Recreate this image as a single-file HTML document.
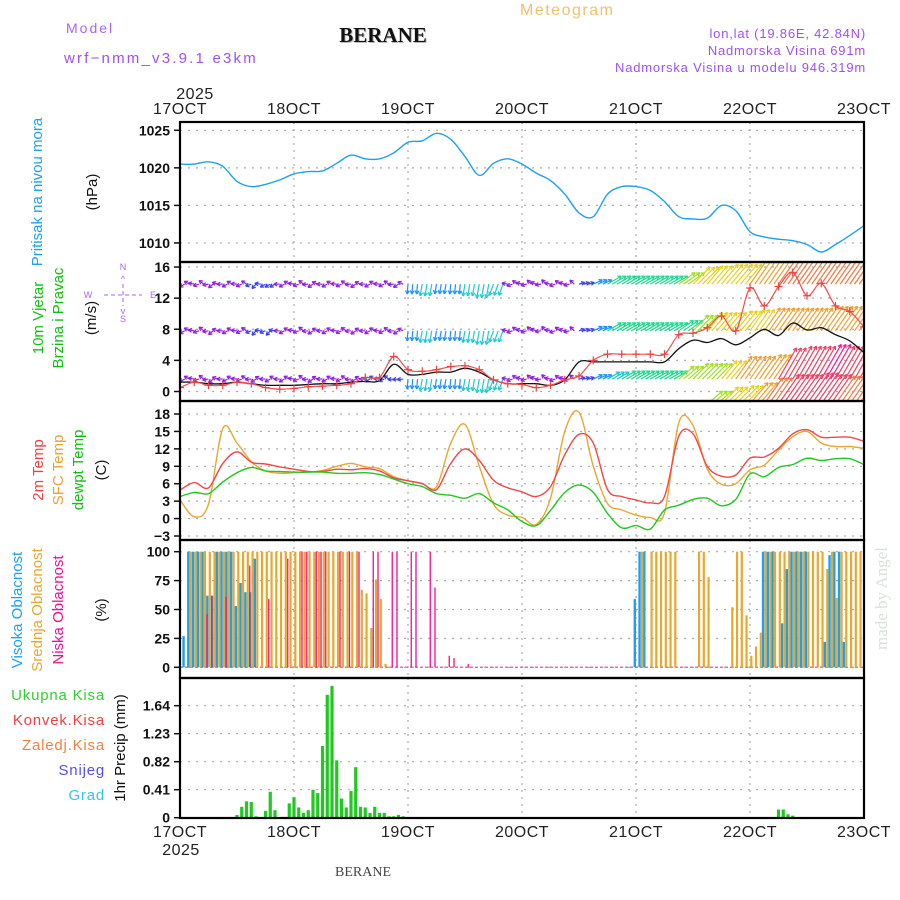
<!DOCTYPE html>
<html><head><meta charset="utf-8"><style>
html,body{margin:0;padding:0;background:#fff;}
svg{display:block;font-family:"Liberation Sans",sans-serif;}
.tl{font-size:14px;font-weight:bold;fill:#111;text-anchor:end;}
.xl{font-size:16px;fill:#222;text-anchor:middle;letter-spacing:0.5px;}
</style></head><body>
<svg id="chart" width="900" height="900" viewBox="0 0 900 900">
<text x="66" y="33" font-size="14" fill="#b060f0" letter-spacing="2">Model</text>
<text x="64" y="63" font-size="15" fill="#a050f0" letter-spacing="2.2">wrf−nmm_v3.9.1 e3km</text>
<text x="384" y="43" font-size="21" font-weight="bold" font-family="Liberation Serif, serif" fill="#bbb" text-anchor="middle">BERANE</text>
<text x="383" y="42" font-size="21" font-weight="bold" font-family="Liberation Serif, serif" fill="#111" text-anchor="middle">BERANE</text>
<text x="520" y="15" font-size="16" fill="#f0c070" letter-spacing="1.5">Meteogram</text>
<text x="866" y="38" font-size="13" fill="#a050f0" text-anchor="end" letter-spacing="0.8">lon,lat (19.86E, 42.84N)</text>
<text x="866" y="55" font-size="13" fill="#a050f0" text-anchor="end" letter-spacing="0.8">Nadmorska Visina 691m</text>
<text x="866" y="72" font-size="13" fill="#a050f0" text-anchor="end" letter-spacing="0.8">Nadmorska Visina u modelu 946.319m</text>
<text x="195" y="99" class="xl">2025</text>
<text x="363" y="876" font-size="14" font-family="Liberation Serif, serif" fill="#444" text-anchor="middle">BERANE</text>
<text transform="translate(887,650) rotate(-90)" font-size="17" font-family="Liberation Serif, serif" fill="#d8e2d8">made by Angel</text>

<text transform="translate(42,192) rotate(-90)" font-size="15" fill="#20a0f0" text-anchor="middle">Pritisak na nivou mora</text>
<text transform="translate(97,192) rotate(-90)" font-size="15" fill="#111" text-anchor="middle">(hPa)</text>
<text transform="translate(43,318) rotate(-90)" font-size="15" fill="#10c010" text-anchor="middle">10m Vjetar</text>
<text transform="translate(63,318) rotate(-90)" font-size="15" fill="#10c010" text-anchor="middle">Brzina i Pravac</text>
<text transform="translate(96,318) rotate(-90)" font-size="15" fill="#111" text-anchor="middle">(m/s)</text>
<g fill="#b060f0" font-size="9" text-anchor="middle">
<text x="123" y="270">N</text><text x="123" y="282">^</text><text x="123" y="322">S</text><text x="123" y="314">v</text>
<text x="88" y="298">W</text><text x="153" y="298">E</text>
<line x1="104" y1="295" x2="142" y2="295" stroke="#b060f0" stroke-width="1" stroke-dasharray="4,3"/>
<line x1="123" y1="284" x2="123" y2="306" stroke="#b060f0" stroke-width="1" stroke-dasharray="4,3"/>
</g>
<text transform="translate(43,470) rotate(-90)" font-size="15" fill="#f04040" text-anchor="middle">2m Temp</text>
<text transform="translate(63,470) rotate(-90)" font-size="15" fill="#f0a030" text-anchor="middle">SFC Temp</text>
<text transform="translate(83,470) rotate(-90)" font-size="15" fill="#10c010" text-anchor="middle">dewpt Temp</text>
<text transform="translate(106,470) rotate(-90)" font-size="15" fill="#111" text-anchor="middle">(C)</text>
<text transform="translate(22,610) rotate(-90)" font-size="15" fill="#20a0f0" text-anchor="middle">Visoka Oblacnost</text>
<text transform="translate(42,610) rotate(-90)" font-size="15" fill="#e8a830" text-anchor="middle">Srednja Oblacnost</text>
<text transform="translate(63,610) rotate(-90)" font-size="15" fill="#f01090" text-anchor="middle">Niska Oblacnost</text>
<text transform="translate(106,610) rotate(-90)" font-size="15" fill="#111" text-anchor="middle">(%)</text>
<g font-size="15" text-anchor="end" letter-spacing="0.8">
<text x="105" y="700" fill="#30d030">Ukupna Kisa</text>
<text x="105" y="725" fill="#f04040">Konvek.Kisa</text>
<text x="105" y="750" fill="#f08040">Zaledj.Kisa</text>
<text x="105" y="775" fill="#5050f0">Snijeg</text>
<text x="105" y="800" fill="#30c8e0">Grad</text>
</g>
<text transform="translate(125,748) rotate(-90)" font-size="15" fill="#111" text-anchor="middle">1hr Precip (mm)</text>
<g id="layer"></g>
</svg>
<script>
// ---- data (3-hourly unless noted) ----
const dayLabels = ["17OCT","18OCT","19OCT","20OCT","21OCT","22OCT","23OCT"];
const pressure = [1020.5,1020.5,1020.8,1020.2,1018.2,1017.5,1017.8,1018.4,1019.2,1019.5,1019.6,1020.6,1021.7,1021.2,1021.2,1022.0,1023.4,1023.6,1024.6,1023.8,1021.5,1019.0,1020.6,1021.2,1020.5,1019.3,1018.3,1016.5,1014.0,1013.5,1016.5,1017.5,1017.5,1017.0,1015.5,1013.5,1013.2,1013.3,1015.0,1014.3,1011.5,1010.8,1010.5,1010.3,1009.8,1008.8,1009.8,1011.0,1012.3];
const pressureTicks = [1010,1015,1020,1025];
const temp2m = [4.9,6.2,5.3,9.5,11.5,9.7,9.4,8.9,8.5,8.1,8.1,8.5,8.4,8.6,8.2,7.0,6.5,6.0,5.0,9.5,12.0,10.0,6.6,5.3,4.6,3.8,5.5,11.0,14.5,13.0,5.0,3.8,3.2,2.7,3.8,14.2,14.6,9.0,7.3,7.5,10.4,10.6,12.1,14.6,15.3,14.0,14.0,14.0,13.3];
const tempSfc = [3.2,0.3,2.5,15.5,13.0,9.8,8.2,7.8,7.9,8.0,8.3,9.0,9.5,8.9,8.6,7.2,6.5,6.0,5.5,13.0,16.2,9.0,2.5,0.6,0.2,-1.0,3.5,15.0,18.3,9.0,2.6,1.5,0.6,0.2,1.0,16.5,16.0,8.5,5.9,6.0,8.4,9.2,11.8,14.1,15.0,13.0,12.4,12.4,12.1];
const tempDew = [3.8,4.5,4.3,6.3,7.9,8.8,8.2,8.1,8.0,8.0,8.0,7.8,7.8,7.9,7.6,6.8,6.0,5.5,4.3,4.0,3.5,4.3,2.7,1.5,-0.5,-1.2,1.4,4.5,5.8,4.5,0.9,-1.6,-1.2,-1.8,1.5,2.3,3.3,3.5,2.2,3.3,7.7,7.2,8.8,9.3,10.4,10.0,10.3,10.3,9.3];
const tempTicks = [-3,0,3,6,9,12,15,18];
const windSpeed = [1.2,1.2,1.0,1.0,1.2,1.0,0.8,0.8,0.8,0.9,1.0,1.0,1.2,1.3,1.4,3.5,2.2,2.2,2.5,2.5,3.0,2.5,1.5,1.0,1.0,1.0,0.8,1.5,3.8,3.8,3.8,3.8,3.8,3.8,3.8,5.5,6.6,6.3,6.8,6.0,6.9,8.0,7.2,8.8,7.9,8.2,7.3,6.5,5.0];
const windGust = [0.5,1.2,0.8,0.8,1.2,1.0,0.5,0.3,0.4,0.6,0.7,0.8,1.0,1.8,1.8,4.5,2.8,2.6,2.8,3.2,3.3,2.8,1.5,1.0,0.9,0.5,0.8,1.5,2.0,4.0,4.8,4.8,4.8,4.8,4.8,7.3,7.5,8.2,9.7,7.8,13.3,11.0,13.5,15.3,12.3,13.9,11.0,10.3,8.3];
const windTicks = [0,4,8,12,16];
// wind barb rows: speed (m/s) and arrow direction (deg, counter-clockwise from east)
const row1Speed = [1.5,1.5,1.5,1.5,1.5,2.5,3,1.5,1.5,1.5,1.5,1.5,1.5,1.5,1.5,1.5,5,6,5,5,6,7,6,1.5,1.5,1.5,1.5,1.5,3,5,8,8,8,8,8,10,12,12,13,13,15,15,16,16,17,17,17,16,16];
const row1Dir = [180,170,190,180,175,200,210,180,170,185,180,175,185,180,175,185,-95,-100,-100,-95,-100,-100,-110,170,165,160,170,165,15,25,30,30,30,30,30,35,45,50,50,50,55,55,55,55,55,55,55,55,55];
const row2Speed = [1.5,1.5,1.5,1.5,1.5,2.5,2,1.5,1.5,1.5,1.5,1.5,1.5,1.5,1.5,1.5,5,6,5,5,6,7,6,1.5,1.5,1.5,1.5,1.5,3,5,8,8,8,8,8,9,11,12,12,13,13,14,14,14,14,15,15,15,15];
const row2Dir = [180,170,190,180,175,200,200,180,170,185,180,175,185,180,175,185,-95,-100,-100,-95,-100,-100,-110,170,165,160,170,165,15,25,30,30,30,30,30,35,45,50,50,50,55,55,55,55,55,55,55,55,55];
const row3Speed = [1.5,1.5,1.5,1.5,1.5,1.5,1.5,1.5,1.5,1.5,1.5,1.5,1.5,2,2.5,3,5,6,5,5,6,7,6,1.5,1.5,1.5,1.5,1.5,3,5,7,8,8,8,8,10,11,11,12,14,14,15,18,19,19,20,19,18,16];
const row3Dir = [180,170,190,180,175,185,180,180,170,185,180,175,185,180,175,185,-95,-100,-100,-95,-100,-100,-110,170,165,160,170,165,15,25,30,30,30,30,30,40,45,45,50,55,55,55,60,60,60,60,60,60,55];
const row4Speed = [0,0,0,0,0,0,0,0,0,0,0,0,0,0,0,0,0,0,0,0,0,0,0,0,0,0,0,0,0,0,0,0,0,0,0,0,0,10,12,13,14,16,18,18,19,18,17,16,15];
const row4Dir = [35,35,35,35,35,35,35,35,35,35,35,35,35,35,35,35,35,35,35,35,35,35,35,35,35,35,35,35,35,35,35,35,35,35,35,35,35,40,45,45,50,55,55,55,55,55,55,55,55];
const rowBase = [13.8,7.8,1.6,-1.6];
// cloud cover (hourly, sparse)
const highHours = [1,2,3,4,5,6,7,8,9,10,11,12,13,14,15,16,96,97,98,123,124,125,127,128,129,130,131,132,136,137,138,139,140];
const highValues = [27,100,100,100,100,62,62,100,100,100,100,53,73,65,65,94,59,100,100,100,100,100,38,85,100,100,100,100,22,97,100,100,22];
const midHours = [2,3,4,5,6,7,8,9,10,11,12,13,14,15,16,17,18,19,20,21,22,23,24,25,26,27,28,29,30,31,32,33,34,35,36,37,38,39,40,41,42,43,97,99,100,101,102,103,104,109,110,111,116,117,118,119,120,121,122,123,124,125,126,127,128,129,130,131,132,133,134,135,136,137,138,139,140,141,142,143];
const midValues = [100,100,100,100,100,100,100,100,100,100,100,100,100,100,100,100,100,100,100,100,100,100,100,100,100,100,100,100,100,100,100,100,100,100,100,100,67,64,34,76,59,3,100,100,100,100,100,100,100,100,100,78,52,100,100,45,10,18,30,100,100,100,100,100,100,100,100,100,100,100,100,100,85,100,60,100,100,100,100,100];
const lowHours = [5,6,9,14,18,22,25,26,28,29,30,33,35,37,40,41,44,45,48,49,52,53,56,57,60];
const lowValues = [46,62,61,88,59,94,100,100,100,100,100,100,100,100,100,100,100,100,100,100,100,69,10,8,3];
const cloudTicks = [0,25,50,75,100];
// precipitation (hourly, sparse)
const precipHours = [12,13,14,15,16,18,19,20,23,24,25,26,27,28,29,30,31,32,33,34,35,36,37,38,39,40,41,42,43,44,45,46,47,126,127,128,129];
const precipValues = [0.04,0.16,0.24,0.23,0.02,0.1,0.38,0.11,0.21,0.3,0.15,0.07,0.11,0.41,0.36,1.05,1.8,1.93,0.84,0.28,0.15,0.39,0.74,0.16,0.15,0.07,0.16,0.07,0.07,0.02,0.02,0.04,0.02,0.12,0.12,0.05,0.03];
const precipTicks = ["0","0.41","0.82","1.23","1.64"];

// ---- axes ----
const X0=180, X1=864, PXH=4.75;
const xH = h => X0 + h*PXH;
const x3 = i => xH(i*3);
const yP = v => 130.3 + (1025-v)*7.51;
const yW = v => 391.5 - v*7.78;
const yT = v => 414 + (18-v)*5.81;
const yC = v => 667.3 - v*1.156;
const yR = v => 817.7 - v*68.3;
const panels = [[122,262],[262,401],[401,540],[540,678],[678,818]];

const NS="http://www.w3.org/2000/svg";
const layer=document.getElementById('layer');
function mk(tag, attrs, parent){const e=document.createElementNS(NS,tag);for(const k in attrs)e.setAttribute(k,attrs[k]);(parent||layer).appendChild(e);return e;}

const defs=mk('defs',{});
panels.forEach((p,k)=>{const c=mk('clipPath',{id:'clip'+k},defs);mk('rect',{x:X0,y:p[0],width:X1-X0,height:p[1]-p[0]},c);});

function hgrid(vals,fy){vals.forEach(v=>{const l=mk('line',{x1:X0,x2:X1,y1:fy(v),y2:fy(v),stroke:'#aaa','stroke-width':1.2,'stroke-dasharray':'2,6'});

});}
hgrid(pressureTicks,yP);hgrid(windTicks,yW);hgrid(tempTicks,yT);hgrid(cloudTicks,yC);hgrid(precipTicks.map(Number),yR);
panels.forEach(p=>{for(let d=1;d<6;d++){const l=mk('line',{x1:xH(d*24),x2:xH(d*24),y1:p[0],y2:p[1],stroke:'#aaa','stroke-width':1.2,'stroke-dasharray':'2,5'});

}});

function ticks(vals,fy,labels){vals.forEach((v,j)=>{const t=mk('text',{x:170,y:fy(v)+5,class:'tl'});t.textContent=labels?labels[j]:String(v);


mk('line',{x1:174,x2:180,y1:fy(v),y2:fy(v),stroke:'#111','stroke-width':1.5});});}
ticks(pressureTicks,yP);ticks(windTicks,yW);
ticks(tempTicks,yT,tempTicks.map(v=>v<0?'−'+(-v):String(v)));
ticks(cloudTicks,yC);ticks(precipTicks.map(Number),yR,precipTicks);
dayLabels.forEach((d,j)=>{
 const t=mk('text',{x:xH(j*24),y:114,class:'xl'});t.textContent=d;
 
 
 const b=mk('text',{x:xH(j*24),y:837,class:'xl'});b.textContent=d;
 
 
});
{const t=mk('text',{x:181,y:855,class:'xl'});t.textContent='2025';

}

// smooth line (Catmull-Rom)
function smooth(vals,fx,fy,color,w,clip,name){
 const P=vals.map((v,i)=>[fx(i),fy(v)]);
 let d='M'+P[0][0].toFixed(1)+','+P[0][1].toFixed(1);
 for(let i=0;i<P.length-1;i++){
  const p0=P[Math.max(0,i-1)],p1=P[i],p2=P[i+1],p3=P[Math.min(P.length-1,i+2)];
  const c1=[p1[0]+(p2[0]-p0[0])/6,p1[1]+(p2[1]-p0[1])/6];
  const c2=[p2[0]-(p3[0]-p1[0])/6,p2[1]-(p3[1]-p1[1])/6];
  d+=' C'+c1.map(n=>n.toFixed(1)).join(',')+' '+c2.map(n=>n.toFixed(1)).join(',')+' '+p2.map(n=>n.toFixed(1)).join(',');
 }
 const e=mk('path',{d:d,fill:'none',stroke:color,'stroke-width':w,'clip-path':'url(#clip'+clip+')','stroke-linejoin':'round'});
 
 return e;}

smooth(pressure,x3,yP,'#1ea0f0',1.4,0,'pressure-line');

function spdColor(s){const c=['#9020e0','#3a40f0','#1e90ff','#20c8d0','#20d890','#a0e020','#e8d020','#f0a030','#f07840','#f04060','#f0208a'];
return c[Math.min(c.length-1,Math.floor(s/2))];}
const windG=mk('g',{'clip-path':'url(#clip1)'});


[[row1Speed,row1Dir],[row2Speed,row2Dir],[row3Speed,row3Dir],[row4Speed,row4Dir]].forEach((r,k)=>{
 const sp=r[0],dr=r[1];
 sp.forEach((s,i)=>{ if(s<=0) return;
  for(let m=0;m<3;m++){const h=i*3+m; if(h>144) break;
   const x=xH(h), y=yW(rowBase[k]);
   const jig = s<3 ? [0,28,-28][m] : 0;
   const L=Math.max(6,s*2.0), a=(dr[i]+jig)*Math.PI/180;
   const x2=x+L*Math.cos(a), y2=y-L*Math.sin(a);
   const g=mk('g',{stroke:spdColor(s),'stroke-width':1.2,fill:'none'},windG);
   
   
   mk('line',{x1:x,y1:y,x2:x2,y2:y2},g);
   [a+Math.PI-0.5,a+Math.PI+0.5].forEach(b=>mk('line',{x1:x2,y1:y2,x2:x2+4*Math.cos(b),y2:y2-4*Math.sin(b)},g));
  }
 });
});
smooth(windSpeed,x3,yW,'#111',1.3,1,'wind-speed-line');
smooth(windGust,x3,yW,'#f05050',1.2,1,'wind-gust-line');
windGust.forEach((v,i)=>{const x=x3(i),y=yW(v);
 const g=mk('g',{stroke:'#f04040','stroke-width':1.2,'clip-path':'url(#clip1)'});
 
 
 mk('line',{x1:x-4,x2:x+4,y1:y,y2:y},g);mk('line',{x1:x,x2:x,y1:y-4,y2:y+4},g);});

smooth(tempSfc,x3,yT,'#e8a830',1.4,2,'sfc-temp-line');
smooth(temp2m,x3,yT,'#f04848',1.4,2,'temp-2m-line');
smooth(tempDew,x3,yT,'#20c820',1.4,2,'dewpoint-line');

mk('line',{x1:X0,x2:X1,y1:yC(0),y2:yC(0),stroke:'#e070b0','stroke-width':1.5,'stroke-dasharray':'3,2'});
highHours.forEach((h,j)=>{const v=highValues[j];const r=mk('rect',{x:xH(h)-2.4,y:yC(v),width:2.4,height:yC(0)-yC(v),fill:'#1ea0f0'});

});
midHours.forEach((h,j)=>{const v=midValues[j];const r=mk('rect',{x:xH(h)+0.2,y:yC(v),width:2.2,height:yC(0)-yC(v),fill:'#e8a830'});

});
lowHours.forEach((h,j)=>{const v=lowValues[j];const r=mk('rect',{x:xH(h)+2.6,y:yC(v),width:1.3,height:yC(0)-yC(v),fill:'#f01090'});

});

precipHours.forEach((h,j)=>{const v=precipValues[j];const r=mk('rect',{x:xH(h)-1.6,y:yR(v),width:3.2,height:yR(0)-yR(v),fill:'#20c820','clip-path':'url(#clip4)'});

});

panels.forEach(p=>{const r=mk('rect',{x:X0,y:p[0],width:X1-X0,height:p[1]-p[0],fill:'none',stroke:'#000','stroke-width':2.2});

});
</script>
</body></html>
